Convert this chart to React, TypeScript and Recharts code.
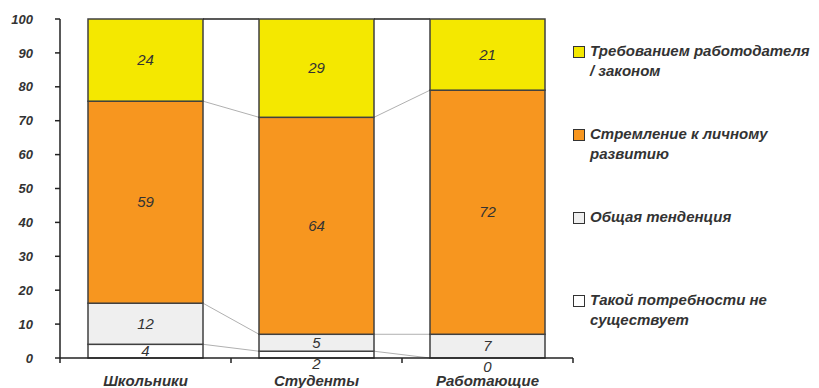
import { Bar, BarChart, LabelList, XAxis, YAxis } from "recharts";

const categories = ["Школьники", "Студенты", "Работающие"];
const noNeed = [4, 2, 0];
const generalTrend = [12, 5, 7];
const selfDevelopment = [59, 64, 72];
const employerDemand = [24, 29, 21];
const yTicks = [0, 10, 20, 30, 40, 50, 60, 70, 80, 90, 100];

const series = [
  { key: "noNeed", name: "Такой потребности не\nсуществует", values: noNeed, color: "#ffffff" },
  { key: "generalTrend", name: "Общая тенденция", values: generalTrend, color: "#efefef" },
  { key: "selfDevelopment", name: "Стремление к личному\nразвитию", values: selfDevelopment, color: "#f7961f" },
  { key: "employerDemand", name: "Требованием работодателя\n/ законом", values: employerDemand, color: "#f4e800" },
];

const data = categories.map((name, i) => {
  const row: Record<string, string | number> = { name };
  series.forEach((s) => (row[s.key] = s.values[i]));
  return row;
});

const W = 819;
const H = 388;
const Y_AXIS_W = 60;
const RIGHT = 246;
const STEP = (W - Y_AXIS_W - RIGHT) / categories.length;
const FONT = "Arial, 'Liberation Sans', sans-serif";
const INK = "#333333";

const total = (i: number) => series.reduce((a, s) => a + s.values[i], 0);
const cumFrac = (si: number, i: number) =>
  series.slice(0, si + 1).reduce((a, s) => a + s.values[i], 0) / total(i);

// bar segment plus the Excel-style series line to the next column
function makeShape(si: number) {
  return (props: any) => {
    const { x, y, width, height, index } = props;
    const s = series[si];
    const frac = s.values[index] / total(index);
    let line = null;
    if (index < categories.length - 1 && frac > 0) {
      const plotH = height / frac;
      const base = y + cumFrac(si, index) * plotH;
      const yNext = base - cumFrac(si, index + 1) * plotH;
      const top = si === series.length - 1;
      line = (
        <line
          x1={x + width}
          y1={y}
          x2={x + STEP}
          y2={yNext}
          stroke={top ? "#222" : "#b0b0b0"}
          strokeWidth={top ? 1.5 : 1}
        />
      );
    }
    return (
      <g>
        <rect x={x} y={y} width={width} height={height} fill={s.color} stroke="#404040" strokeWidth={1.5} />
        {line}
      </g>
    );
  };
}

function makeLabel(si: number) {
  return (props: any) => {
    const { x, y, width, height, index } = props;
    const v = series[si].values[index];
    const dy = v <= 2 ? 9 : 0;
    return (
      <text
        x={x + width / 2}
        y={y + height / 2 + dy}
        dy="0.35em"
        textAnchor="middle"
        fontFamily={FONT}
        fontStyle="italic"
        fontSize={15}
        fill={INK}
      >
        {v}
      </text>
    );
  };
}

function CategoryTick(props: any) {
  const { x, y, payload, index } = props;
  const last = index === categories.length - 1;
  return (
    <g>
      <line x1={x - STEP / 2} y1={y} x2={x - STEP / 2} y2={y + 5} stroke="#222" strokeWidth={1.5} />
      {last && <line x1={x + STEP / 2} y1={y} x2={x + STEP / 2} y2={y + 5} stroke="#222" strokeWidth={1.5} />}
      <text
        x={x}
        y={y + 28}
        textAnchor="middle"
        fontFamily={FONT}
        fontWeight="bold"
        fontStyle="italic"
        fontSize={15}
        fill={INK}
      >
        {payload.value}
      </text>
    </g>
  );
}

function SideLegend() {
  const items = [...series].reverse();
  return (
    <div style={{ position: "absolute", left: 573, top: 42, fontFamily: FONT }}>
      {items.map((s) => (
        <div key={s.key} style={{ height: 83, display: "flex", alignItems: "flex-start" }}>
          <div
            style={{
              width: 10,
              height: 10,
              marginTop: 4,
              background: s.color,
              border: "1px solid #333",
              flex: "none",
            }}
          />
          <div
            style={{
              marginLeft: 5,
              fontSize: 15,
              lineHeight: "20px",
              fontWeight: "bold",
              fontStyle: "italic",
              color: INK,
              whiteSpace: "pre-line",
              marginTop: -1,
            }}
          >
            {s.name}
          </div>
        </div>
      ))}
    </div>
  );
}

export default function App() {
  return (
    <div style={{ position: "absolute", left: 0, top: 0, width: W, height: H, background: "#fff" }}>
      <BarChart
        width={W}
        height={H}
        data={data}
        stackOffset="expand"
        margin={{ top: 19, right: RIGHT, bottom: 0, left: 0 }}
      >
        <XAxis
          dataKey="name"
          height={30}
          tickLine={false}
          tickSize={0}
          tickMargin={0}
          axisLine={{ stroke: "#222", strokeWidth: 1.5 }}
          tick={<CategoryTick />}
          interval={0}
        />
        <YAxis
          width={Y_AXIS_W}
          domain={[0, 1]}
          ticks={yTicks.map((t) => t / 100)}
          tickFormatter={(v: number) => String(Math.round(v * 100))}
          tickSize={5}
          tickMargin={22}
          axisLine={{ stroke: "#222", strokeWidth: 1.5 }}
          tickLine={{ stroke: "#222", strokeWidth: 1.5 }}
          tick={{ fontFamily: FONT, fontSize: 13, fontWeight: "bold", fontStyle: "italic", fill: INK }}
        />
        {series.map((s, si) => (
          <Bar
            key={s.key}
            dataKey={s.key}
            name={s.name}
            stackId="a"
            barSize={115}
            fill={s.color}
            shape={makeShape(si)}
            isAnimationActive={false}
          >
            <LabelList content={makeLabel(si)} />
          </Bar>
        ))}
      </BarChart>
      <SideLegend />
    </div>
  );
}
